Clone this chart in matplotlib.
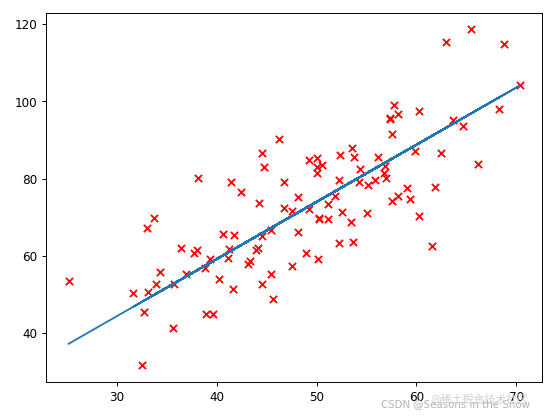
import numpy as np
import matplotlib
matplotlib.use("Agg")
import matplotlib.pyplot as plt

plt.rcParams["font.family"] = ["DejaVu Sans", "Noto Sans CJK SC"]

# 数据点
x_data = [32.50, 53.43, 61.53, 47.48, 59.81, 55.14, 52.21, 39.30, 48.11, 52.55,
          45.42, 54.35, 44.16, 58.17, 56.73, 48.96, 44.69, 60.30, 45.62, 38.82,
          66.19, 65.42, 47.48, 41.58, 51.85, 59.37, 57.31, 63.62, 46.74, 50.56,
          52.22, 35.57, 42.44, 58.16, 57.50, 45.44, 61.90, 33.09, 36.44, 37.68,
          44.56, 43.32, 50.07, 43.87, 63.00, 32.67, 40.17, 53.58, 33.86, 64.71,
          38.12, 44.50, 40.60, 41.72, 51.09, 55.08, 41.38, 62.49, 49.20, 41.10,
          41.18, 50.19, 52.38, 50.14, 33.64, 39.56, 56.13, 57.36, 60.27, 35.68,
          31.59, 53.66, 46.68, 43.11, 70.35, 44.49, 57.50, 36.93, 55.81, 38.95,
          56.90, 56.87, 34.33, 59.05, 57.79, 54.28, 51.09, 50.28, 44.21, 38.01,
          32.94, 53.69, 68.77, 46.23, 68.32, 50.03, 49.24, 50.04, 48.15, 25.13]
y_data = [31.71, 68.78, 62.56, 71.55, 87.23, 78.21, 79.64, 59.17, 75.33, 71.30,
          55.17, 82.48, 62.01, 75.39, 81.44, 60.72, 82.89, 97.38, 48.85, 56.88,
          83.88, 118.59, 57.25, 51.39, 75.38, 74.77, 95.46, 95.23, 79.05, 83.43,
          63.36, 41.41, 76.62, 96.77, 74.08, 66.59, 77.77, 50.72, 62.12, 60.81,
          52.68, 58.57, 82.91, 61.42, 115.24, 45.57, 54.08, 87.99, 52.73, 93.58,
          80.17, 65.10, 65.56, 65.28, 73.43, 71.14, 79.10, 86.52, 84.74, 59.36,
          61.68, 69.85, 86.10, 59.11, 69.90, 44.86, 85.50, 95.54, 70.25, 52.72,
          50.39, 63.64, 72.25, 57.81, 104.26, 86.64, 91.49, 55.23, 79.55, 44.85,
          80.21, 83.14, 55.72, 77.63, 99.05, 79.12, 69.59, 69.51, 73.69, 61.37,
          67.17, 85.67, 114.85, 90.12, 97.92, 81.54, 72.11, 85.23, 66.22, 53.45]

# 梯度下降得到的参数
slope = 1.4777
intercept = 0.0889


def main():
    x = np.array(x_data)
    y = np.array(y_data)
    y_pred = slope * x + intercept

    fig = plt.figure(figsize=(6.4, 4.8), dpi=86.72)
    ax = fig.add_axes([0.083, 0.082, 0.894, 0.887])
    ax.scatter(x, y, c="r", marker="x")
    ax.plot(x, y_pred)

    # 水印
    fig.text(0.955, 0.029, "CSDN @Seasons in the Snow", ha="right", va="center",
             fontsize=8.5, color="#b4b4b4")
    fig.text(0.952, 0.040, "@稀土掘金技术社区", ha="right", va="center",
             fontsize=9, color="#c8c8c8", alpha=0.85)

    fig.savefig("out.png", dpi=86.72)
    plt.close(fig)


if __name__ == "__main__":
    main()
